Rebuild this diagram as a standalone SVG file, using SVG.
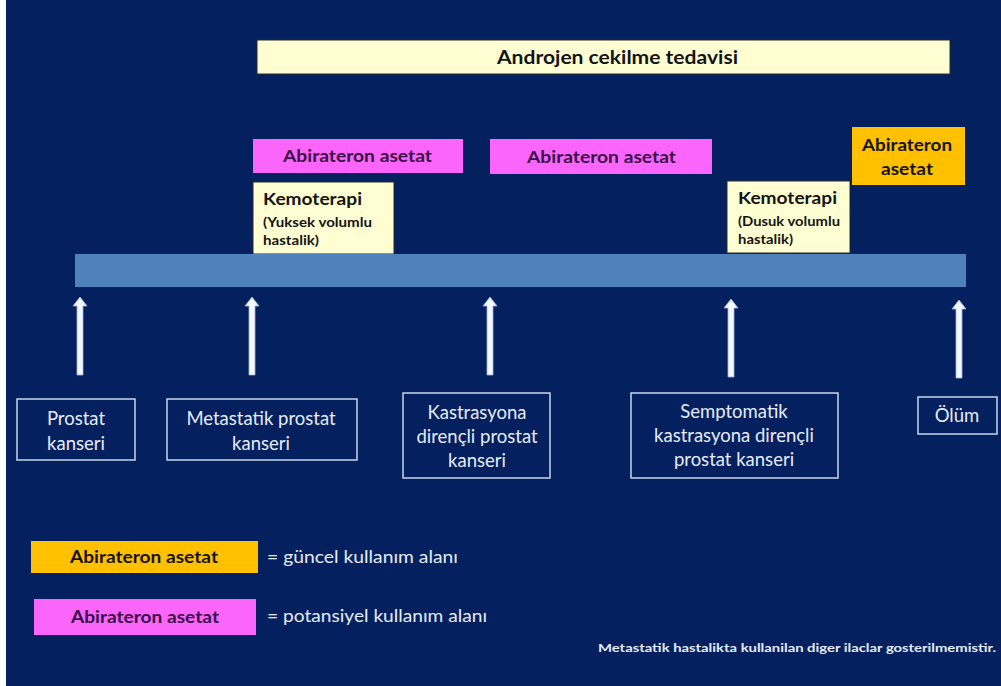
<svg xmlns="http://www.w3.org/2000/svg" width="1001" height="686" viewBox="0 0 1001 686">
<style>
.bg{fill:#05205e}
.cream{fill:#fefed2;stroke:#2b2b2b;stroke-width:1}
.mag{fill:#fb65fb}
.org{fill:#ffc000}
.bar{fill:#4f81bd}
.stage{fill:none;stroke:#c8d4ea;stroke-width:1.5}
.dk{font-family:Lato,"Liberation Sans",sans-serif;font-weight:bold;fill:#141414}
.pk{font-family:Lato,"Liberation Sans",sans-serif;font-weight:bold;fill:#3a1048}
.wt{font-family:Lato,"Liberation Sans",sans-serif;fill:#e6ecf7}
.arr{fill:#f4f7fc;stroke:#9fb3d9;stroke-width:0.8}
</style>
<rect x="0" y="0" width="1001" height="686" class="bg"/>
<rect x="0" y="0" width="6" height="686" fill="#ffffff"/>

<g id="androjen">
<rect x="257" y="40" width="693" height="34" class="cream"/>
<text x="497" y="64" class="dk" font-size="18" textLength="241" lengthAdjust="spacingAndGlyphs">Androjen cekilme tedavisi</text>
</g>

<g id="abirateron-1">
<rect x="253" y="139" width="210" height="34" class="mag"/>
<text x="283" y="162" class="pk" font-size="17" textLength="149" lengthAdjust="spacingAndGlyphs">Abirateron asetat</text>
</g>

<g id="abirateron-2">
<rect x="490" y="139" width="222" height="35" class="mag"/>
<text x="527" y="163" class="pk" font-size="17" textLength="149" lengthAdjust="spacingAndGlyphs">Abirateron asetat</text>
</g>

<g id="abirateron-3">
<rect x="852" y="127" width="113" height="58" class="org"/>
<text x="862" y="151" class="dk" font-size="17" textLength="90" lengthAdjust="spacingAndGlyphs">Abirateron</text>
<text x="881" y="175" class="dk" font-size="17" textLength="52" lengthAdjust="spacingAndGlyphs">asetat</text>
</g>

<g id="kemoterapi-1">
<rect x="253" y="182" width="141" height="72" class="cream" stroke="none"/>
<text x="263" y="205" class="dk" font-size="17" textLength="99" lengthAdjust="spacingAndGlyphs">Kemoterapi</text>
<text x="263" y="227" class="dk" font-size="12.5" textLength="109" lengthAdjust="spacingAndGlyphs">(Yuksek volumlu</text>
<text x="263" y="245" class="dk" font-size="12.5" textLength="56" lengthAdjust="spacingAndGlyphs">hastalik)</text>
</g>

<g id="kemoterapi-2">
<rect x="727" y="181" width="123" height="72" class="cream" stroke="none"/>
<text x="738" y="204" class="dk" font-size="17" textLength="99" lengthAdjust="spacingAndGlyphs">Kemoterapi</text>
<text x="738" y="226" class="dk" font-size="12.5" textLength="102" lengthAdjust="spacingAndGlyphs">(Dusuk volumlu</text>
<text x="738" y="244" class="dk" font-size="12.5" textLength="55" lengthAdjust="spacingAndGlyphs">hastalik)</text>
</g>

<g id="timeline">
<rect x="75" y="254" width="891" height="33" class="bar"/>
</g>

<g id="connectors">
<path class="arr" d="M80,297 L87,306 L83,306 L83,375 L77,375 L77,306 L73,306 Z"/>
<path class="arr" d="M252,297 L259,306 L255,306 L255,375 L249,375 L249,306 L245,306 Z"/>
<path class="arr" d="M490,297 L497,306 L493,306 L493,375 L487,375 L487,306 L483,306 Z"/>
<path class="arr" d="M731,299 L738,308 L734,308 L734,377 L728,377 L728,308 L724,308 Z"/>
<path class="arr" d="M959,300 L966,309 L962,309 L962,378 L956,378 L956,309 L952,309 Z"/>
</g>

<g id="prostat-kanseri">
<rect x="17" y="399" width="118" height="61" class="stage"/>
<text x="76" y="425" class="wt" font-size="18.5" text-anchor="middle">Prostat</text>
<text x="76" y="450" class="wt" font-size="18.5" text-anchor="middle">kanseri</text>
</g>

<g id="metastatik">
<rect x="167" y="399" width="190" height="61" class="stage"/>
<text x="261" y="425" class="wt" font-size="18.5" text-anchor="middle">Metastatik  prostat</text>
<text x="261" y="450" class="wt" font-size="18.5" text-anchor="middle">kanseri</text>
</g>

<g id="kastrasyona">
<rect x="403" y="393" width="147" height="85" class="stage"/>
<text x="477" y="419" class="wt" font-size="18.5" text-anchor="middle">Kastrasyona</text>
<text x="477" y="443" class="wt" font-size="18.5" text-anchor="middle">dirençli prostat</text>
<text x="477" y="467" class="wt" font-size="18.5" text-anchor="middle">kanseri</text>
</g>

<g id="semptomatik">
<rect x="631" y="393" width="207" height="85" class="stage"/>
<text x="734" y="418" class="wt" font-size="18.5" text-anchor="middle">Semptomatik</text>
<text x="734" y="442" class="wt" font-size="18.5" text-anchor="middle">kastrasyona dirençli</text>
<text x="734" y="466" class="wt" font-size="18.5" text-anchor="middle">prostat kanseri</text>
</g>

<g id="olum">
<rect x="918" y="397" width="79" height="37" class="stage"/>
<text x="957" y="422" class="wt" font-size="18.5" text-anchor="middle">Ölüm</text>
</g>

<g id="legend-current">
<rect x="31" y="541" width="227" height="32" class="org"/>
<text x="70" y="563" class="dk" font-size="16.5" textLength="148" lengthAdjust="spacingAndGlyphs">Abirateron asetat</text>
<text x="267" y="563" class="wt" font-size="17.5" textLength="191" lengthAdjust="spacingAndGlyphs">= güncel kullanım alanı</text>
</g>

<g id="legend-potential">
<rect x="34" y="599" width="222" height="36" class="mag"/>
<text x="71" y="623" class="pk" font-size="16.5" textLength="148" lengthAdjust="spacingAndGlyphs">Abirateron asetat</text>
<text x="267" y="622" class="wt" font-size="17.5" textLength="220" lengthAdjust="spacingAndGlyphs">= potansiyel kullanım alanı</text>
</g>

<g id="footnote">
<text x="598" y="652" class="wt" font-size="11.5" font-weight="bold" textLength="398" lengthAdjust="spacingAndGlyphs">Metastatik hastalikta kullanilan diger ilaclar gosterilmemistir.</text>
</g>
</svg>
